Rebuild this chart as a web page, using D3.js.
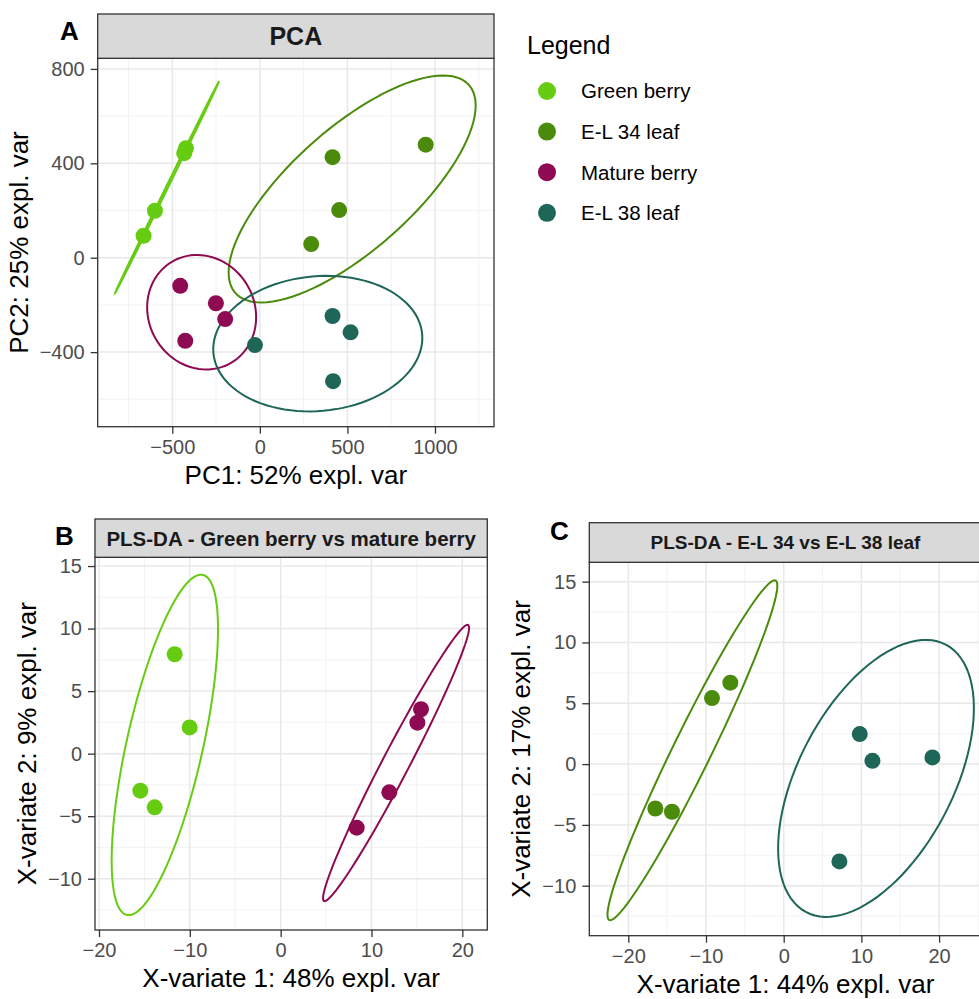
<!DOCTYPE html>
<html>
<head>
<meta charset="utf-8">
<script src="https://cdn.jsdelivr.net/npm/d3@7"></script>
<style>
  body { margin: 0; background: #fff; }
  svg { display: block; font-family: "Liberation Sans", Arial, sans-serif; }
</style>
</head>
<body>
<svg id="fig" width="979" height="999"></svg>
<script>
// ---- data ----
var groupNames = ["Green berry", "E-L 34 leaf", "Mature berry", "E-L 38 leaf"];
var groupColors = ["#66CC11", "#4B8B0B", "#8E0A52", "#1E6658"];

// panel A - PCA
var pcaGreenBerry  = [[-664, 93], [-599, 199], [-422, 464], [-432, 443]];
var pcaEL34Leaf    = [[415, 426], [947, 479], [453, 202], [293, 58]];
var pcaMatureBerry = [[-455, -119], [-251, -193], [-198, -260], [-426, -352]];
var pcaEL38Leaf    = [[-28, -370], [415, -247], [518, -316], [418, -523]];
var pcaXTicks = [-500, 0, 500, 1000];
var pcaYTicks = [-400, 0, 400, 800];

// panel B - PLS-DA green vs mature berry
var plsbGreenBerry  = [[-11.67, 7.95], [-10.02, 2.1], [-15.45, -2.96], [-13.87, -4.29]];
var plsbMatureBerry = [[15.45, 3.55], [15.05, 2.48], [11.96, -3.09], [8.37, -5.92]];
var plsbXTicks = [-20, -10, 0, 10, 20];
var plsbYTicks = [-10, -5, 0, 5, 10, 15];

// panel C - PLS-DA E-L 34 vs E-L 38 leaf
var plscEL34Leaf = [[-6.87, 6.69], [-9.23, 5.43], [-16.52, -3.65], [-14.38, -3.92]];
var plscEL38Leaf = [[9.79, 2.47], [11.42, 0.27], [19.14, 0.55], [7.17, -8.0]];
var plscXTicks = [-20, -10, 0, 10, 20];
var plscYTicks = [-10, -5, 0, 5, 10, 15];

var svg = d3.select("#fig");
var CHI2_95 = Math.sqrt(5.991464547); // level 0.95, 2 df

// confidence ellipse like ellipse::ellipse(cov, centre, level = .95)
function ellipsePoints(pts) {
  var n = pts.length;
  var mx = d3.mean(pts, function(p) { return p[0]; });
  var my = d3.mean(pts, function(p) { return p[1]; });
  var sxx = 0, syy = 0, sxy = 0;
  pts.forEach(function(p) {
    sxx += (p[0] - mx) * (p[0] - mx);
    syy += (p[1] - my) * (p[1] - my);
    sxy += (p[0] - mx) * (p[1] - my);
  });
  var sx = Math.sqrt(sxx / (n - 1)), sy = Math.sqrt(syy / (n - 1));
  var r = (sxy / (n - 1)) / (sx * sy);
  var d = Math.acos(Math.max(-1, Math.min(1, r)));
  return d3.range(101).map(function(i) {
    var a = i / 100 * 2 * Math.PI;
    return [CHI2_95 * sx * Math.cos(a + d / 2) + mx, CHI2_95 * sy * Math.cos(a - d / 2) + my];
  });
}

function minorTicks(ticks, domain) {
  var step = ticks[1] - ticks[0];
  var out = [];
  for (var v = ticks[0] - step * 1.5; v <= ticks[ticks.length - 1] + step; v += step) {
    if (v > domain[0] && v < domain[1]) out.push(v);
  }
  return out;
}

function drawPanel(cfg) {
  var g = svg.append("g");
  var x = d3.scaleLinear().domain(cfg.xDomain).range([cfg.left, cfg.right]);
  var y = d3.scaleLinear().domain(cfg.yDomain).range([cfg.bottom, cfg.top]);

  // grid
  var grid = g.append("g");
  grid.selectAll(".vmin").data(minorTicks(cfg.xTicks, cfg.xDomain)).enter().append("line")
    .attr("x1", function(d) { return x(d); }).attr("x2", function(d) { return x(d); })
    .attr("y1", cfg.top).attr("y2", cfg.bottom)
    .attr("stroke", "#F0F0F0").attr("stroke-width", 0.8);
  grid.selectAll(".hmin").data(minorTicks(cfg.yTicks, cfg.yDomain)).enter().append("line")
    .attr("y1", function(d) { return y(d); }).attr("y2", function(d) { return y(d); })
    .attr("x1", cfg.left).attr("x2", cfg.right)
    .attr("stroke", "#F0F0F0").attr("stroke-width", 0.8);
  grid.selectAll(".vmaj").data(cfg.xTicks).enter().append("line")
    .attr("x1", function(d) { return x(d); }).attr("x2", function(d) { return x(d); })
    .attr("y1", cfg.top).attr("y2", cfg.bottom)
    .attr("stroke", "#E8E8E8").attr("stroke-width", 1.5);
  grid.selectAll(".hmaj").data(cfg.yTicks).enter().append("line")
    .attr("y1", function(d) { return y(d); }).attr("y2", function(d) { return y(d); })
    .attr("x1", cfg.left).attr("x2", cfg.right)
    .attr("stroke", "#E8E8E8").attr("stroke-width", 1.5);

  // ellipses then points
  var line = d3.line().x(function(d) { return x(d[0]); }).y(function(d) { return y(d[1]); });
  cfg.groups.forEach(function(grp) {
    g.append("path").attr("d", line(ellipsePoints(grp.pts)))
      .attr("fill", "none").attr("stroke", grp.color).attr("stroke-width", 2);
  });
  cfg.groups.forEach(function(grp) {
    g.selectAll(null).data(grp.pts).enter().append("circle")
      .attr("cx", function(d) { return x(d[0]); })
      .attr("cy", function(d) { return y(d[1]); })
      .attr("r", 8).attr("fill", grp.color);
  });

  // panel border + strip
  g.append("rect").attr("x", cfg.left).attr("y", cfg.top)
    .attr("width", cfg.right - cfg.left).attr("height", cfg.bottom - cfg.top)
    .attr("fill", "none").attr("stroke", "#333").attr("stroke-width", 1.3);
  g.append("rect").attr("x", cfg.left).attr("y", cfg.stripTop)
    .attr("width", cfg.right - cfg.left).attr("height", cfg.top - cfg.stripTop)
    .attr("fill", "#D9D9D9").attr("stroke", "#333").attr("stroke-width", 1.3);
  g.append("text").attr("x", (cfg.left + cfg.right) / 2).attr("y", (cfg.stripTop + cfg.top) / 2)
    .attr("dy", "0.36em").attr("text-anchor", "middle")
    .attr("font-weight", "bold").attr("font-size", cfg.stripSize).attr("fill", "#1A1A1A")
    .text(cfg.title);

  // axes
  var xAxis = g.append("g").attr("transform", "translate(0," + cfg.bottom + ")")
    .call(d3.axisBottom(x).tickValues(cfg.xTicks).tickSize(7).tickPadding(6).tickFormat(d3.format("")));
  var yAxis = g.append("g").attr("transform", "translate(" + cfg.left + ",0)")
    .call(d3.axisLeft(y).tickValues(cfg.yTicks).tickSize(7).tickPadding(6).tickFormat(d3.format("")));
  [xAxis, yAxis].forEach(function(ax) {
    ax.select(".domain").remove();
    ax.selectAll(".tick line").attr("stroke", "#333").attr("stroke-width", 1.3);
    ax.selectAll(".tick text").attr("fill", "#4D4D4D").attr("font-size", 20)
      .attr("font-family", "Liberation Sans, Arial, sans-serif");
  });
  var labW = d3.max(yAxis.selectAll(".tick text").nodes(), function(n) { return n.getComputedTextLength(); });

  g.append("text").attr("x", (cfg.left + cfg.right) / 2).attr("y", cfg.bottom + 57)
    .attr("text-anchor", "middle").attr("font-size", 26).attr("fill", "#000")
    .text(cfg.xLabel);
  var yx = cfg.left - 13 - labW - 12;
  g.append("text").attr("transform", "translate(" + yx + "," + ((cfg.top + cfg.bottom) / 2) + ") rotate(-90)")
    .attr("text-anchor", "middle").attr("font-size", 26).attr("fill", "#000")
    .text(cfg.yLabel);

  g.append("text").attr("x", cfg.tagX).attr("y", cfg.tagY)
    .attr("font-weight", "bold").attr("font-size", 26).attr("fill", "#000")
    .text(cfg.tag);
}

drawPanel({
  left: 97.7, right: 494, top: 58.3, bottom: 426.7, stripTop: 14,
  xDomain: [-926, 1337], yDomain: [-716, 845],
  xTicks: pcaXTicks, yTicks: pcaYTicks,
  title: "PCA", stripSize: 25,
  xLabel: "PC1: 52% expl. var", yLabel: "PC2: 25% expl. var",
  tag: "A", tagX: 60, tagY: 40,
  groups: [
    { pts: pcaGreenBerry,  color: groupColors[0] },
    { pts: pcaEL34Leaf,    color: groupColors[1] },
    { pts: pcaMatureBerry, color: groupColors[2] },
    { pts: pcaEL38Leaf,    color: groupColors[3] }
  ]
});

drawPanel({
  left: 95, right: 487.3, top: 557.3, bottom: 930, stripTop: 519,
  xDomain: [-20.44, 22.75], yDomain: [-14.1, 15.7],
  xTicks: plsbXTicks, yTicks: plsbYTicks,
  title: "PLS-DA - Green berry vs mature berry", stripSize: 20.5,
  xLabel: "X-variate 1: 48% expl. var", yLabel: "X-variate 2: 9% expl. var",
  tag: "B", tagX: 55, tagY: 545,
  groups: [
    { pts: plsbGreenBerry,  color: groupColors[0] },
    { pts: plsbMatureBerry, color: groupColors[2] }
  ]
});

drawPanel({
  left: 589.3, right: 981.6, top: 562.3, bottom: 935.7, stripTop: 522.7,
  xDomain: [-25.02, 25.47], yDomain: [-14.11, 16.59],
  xTicks: plscXTicks, yTicks: plscYTicks,
  title: "PLS-DA - E-L 34 vs E-L 38 leaf", stripSize: 19,
  xLabel: "X-variate 1: 44% expl. var", yLabel: "X-variate 2: 17% expl. var",
  tag: "C", tagX: 550, tagY: 540,
  groups: [
    { pts: plscEL34Leaf, color: groupColors[1] },
    { pts: plscEL38Leaf, color: groupColors[3] }
  ]
});

// legend
var legend = svg.append("g");
legend.append("text").attr("x", 527).attr("y", 54).attr("font-size", 25).attr("fill", "#000").text("Legend");
var items = legend.selectAll(".item").data(groupNames).enter().append("g")
  .attr("transform", function(d, i) { return "translate(547," + (91 + i * 40.6) + ")"; });
items.append("circle").attr("r", 9).attr("fill", function(d, i) { return groupColors[i]; });
items.append("text").attr("x", 34).attr("dy", "0.36em").attr("font-size", 20.5).attr("fill", "#000")
  .text(function(d) { return d; });
</script>
</body>
</html>
